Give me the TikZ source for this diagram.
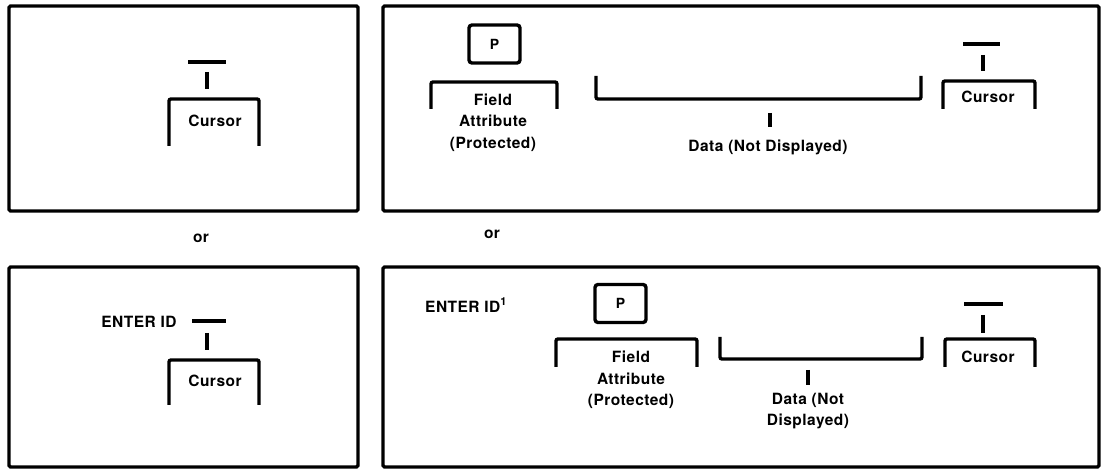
\documentclass[tikz,border=0pt]{standalone}
\usepackage{fontspec}
\setmainfont{TeX Gyre Heros}[LetterSpace=3]

\begin{document}
\begin{tikzpicture}[
			x=1pt, y=-1pt,
			screen/.style={draw, line width=3.4pt, rounded corners=1.5pt},
			Lbl/.style={font=\bfseries\fontsize{15.5}{21.5}\selectfont, inner sep=0pt, align=center},
			PBox/.style={draw, line width=3.4pt, rounded corners=3pt, inner sep=0pt,
				minimum width=51pt, minimum height=38pt, font=\bfseries\fontsize{14}{15}\selectfont},
			brk/.style={line width=3.4pt, rounded corners=2pt},
			tee/.style={line width=3.4pt},
			]
			\useasboundingbox (0,0) rectangle (1101,470);
			
			% screens
			\draw[screen] (9,6) rectangle (358,211);
			\draw[screen] (383,6) rectangle (1099,211);
			\draw[screen] (9,267) rectangle (358,467);
			\draw[screen] (383,267) rectangle (1099,467);
			
			\node [Lbl] (or1) at (201,238) {or};
			\node [Lbl] (or2) at (492,234) {or};
			
			% top left
			\draw[tee] (188,62) -- (226,62);
			\draw[tee] (207,72) -- (207,89);
			\draw[brk] (169,146) -- (169,99) -- (259,99) -- (259,146);
			\node [Lbl] (cur1) at (215,121) {Cursor};
			
			% top right
			\node [PBox] (p1) at (494.5,44) {P};
			\draw[brk] (431,109) -- (431,82) -- (557,82) -- (557,109);
			\node [Lbl] (fa1) at (493,122.5) {Field\\Attribute\\(Protected)};
			\draw[brk] (596,76) -- (596,99) -- (921,99) -- (921,76);
			\draw[tee] (770,113) -- (770,127);
			\node [Lbl] (data1) at (768,147) {Data (Not Displayed)};
			\draw[tee] (963,44) -- (1000,44);
			\draw[tee] (983,55) -- (983,71);
			\draw[brk] (943,109) -- (943,81) -- (1035,81) -- (1035,109);
			\node [Lbl] (cur2) at (988,97) {Cursor};
			
			% bottom left
			\node [Lbl] (id1) at (139,322) {ENTER ID};
			\draw[tee] (192,321) -- (226,321);
			\draw[tee] (207,333) -- (207,350);
			\draw[brk] (169,405) -- (169,360) -- (259,360) -- (259,405);
			\node [Lbl] (cur3) at (215,381) {Cursor};
			
			% bottom right
			\node [Lbl, anchor=west] (id2) at (425,305) {ENTER ID\raisebox{0.45em}{\fontsize{11}{12}\selectfont 1}};
			\node [PBox] (p2) at (620.5,303.5) {P};
			\draw[brk] (556,367) -- (556,339) -- (697,339) -- (697,367);
			\node [Lbl] (fa2) at (631,380) {Field\\Attribute\\(Protected)};
			\draw[brk] (720,337) -- (720,359) -- (922,359) -- (922,337);
			\draw[tee] (808,370) -- (808,385);
			\node [Lbl] (data2) at (808,411) {Data (Not\\Displayed)};
			\draw[tee] (964,304) -- (1003,304);
			\draw[tee] (983,315) -- (983,333);
			\draw[brk] (945,367) -- (945,339) -- (1035,339) -- (1035,367);
			\node [Lbl] (cur4) at (988,357) {Cursor};
		\end{tikzpicture}
\end{document}
